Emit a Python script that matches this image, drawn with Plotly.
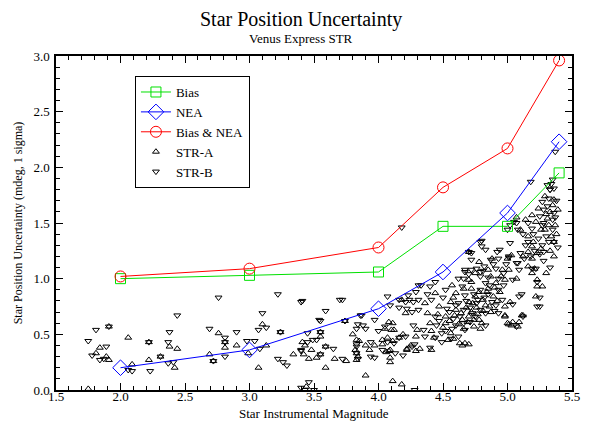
import plotly.graph_objects as go

# ---- Model curves ----
mag = [2.0, 3.0, 4.0, 4.5, 5.0, 5.4]
bias = [1.00, 1.03, 1.06, 1.47, 1.47, 1.95]
nea = [0.20, 0.36, 0.73, 1.06, 1.59, 2.23]
bias_nea = [1.02, 1.09, 1.28, 1.82, 2.17, 2.96]

# ---- STR-A measurements (x = magnitude, y = uncertainty) ----
strA = [
    (1.75, 0.01), (1.84, 0.38), (1.81, 0.33), (1.89, 0.30), (1.91, 0.27), (1.91, 0.57),
    (2.06, 0.47), (2.09, 0.23), (2.22, 0.43), (2.22, 0.27), (2.31, 0.30), (2.38, 0.39),
    (2.44, 0.37), (2.42, 0.20), (2.76, 0.51), (2.81, 0.43), (2.81, 0.38), (2.69, 0.32),
    (2.72, 0.26), (2.90, 0.40), (3.10, 0.59), (2.99, 0.33), (3.13, 0.40), (3.24, 0.52),
    (3.55, 0.48), (3.41, 0.43), (3.43, 0.40), (3.48, 0.36), (3.59, 0.39), (3.42, 0.32),
    (3.34, 0.32), (3.46, 0.28), (3.52, 0.29), (3.55, 0.32), (3.59, 0.20), (3.66, 0.28),
    (3.75, 0.26), (3.07, 0.20), (3.83, 0.33), (3.80, 0.50), (3.74, 0.62), (3.44, 0.03),
    (3.55, 0.52), (4.21, 0.69), (4.08, 0.61), (4.11, 0.60), (4.05, 0.55), (4.12, 0.54),
    (4.03, 0.45), (4.11, 0.44), (4.19, 0.50), (3.83, 0.45), (3.85, 0.44), (3.84, 0.30),
    (3.90, 0.40), (3.93, 0.36), (3.97, 0.40), (4.06, 0.34), (4.09, 0.36), (4.09, 0.29),
    (4.09, 0.25), (4.22, 0.37), (4.25, 0.40), (4.32, 0.37), (4.41, 0.36), (3.90, 0.13),
    (4.11, 0.08), (4.18, 0.05), (4.58, 0.46), (4.65, 0.40), (4.70, 0.41), (4.98, 0.66),
    (5.00, 0.60), (5.04, 0.61), (5.08, 0.57), (5.21, 1.09), (5.23, 0.93), (5.27, 0.93),
    (4.98, 0.67), (5.12, 0.67), (5.01, 0.59), (5.09, 0.61), (5.07, 1.55), (4.78, 1.15),
    (4.70, 1.24), (5.36, 1.33), (4.18, 0.81), (3.83, 0.27), (3.82, 0.36),
    (5.29, 1.74), (5.36, 1.71), (5.35, 1.66), (5.24, 1.63), (5.33, 1.60), (5.19, 1.57),
    (5.31, 1.54), (5.14, 1.53), (5.22, 1.51), (5.32, 1.48), (5.10, 1.44), (5.29, 1.44),
    (5.16, 1.38), (5.20, 1.33), (5.19, 1.29), (5.16, 1.24), (5.23, 1.23), (5.03, 1.21),
    (5.19, 1.18), (5.16, 1.11), (5.23, 0.99), (5.01, 1.08), (4.88, 1.18), (5.00, 1.18),
    (4.85, 1.08), (4.96, 1.08), (4.75, 1.05), (4.87, 1.02), (4.98, 0.99), (5.07, 1.00),
    (4.70, 0.99), (4.91, 0.96), (4.57, 0.94), (4.72, 0.91), (4.85, 0.91), (4.94, 0.88),
    (4.60, 0.87), (4.75, 0.84), (4.89, 0.84), (5.02, 0.79), (4.44, 0.87), (4.56, 0.79),
    (4.70, 0.79), (4.83, 0.76), (4.98, 0.75), (4.47, 0.75), (4.60, 0.72), (4.72, 0.70),
    (4.87, 0.70), (4.36, 0.78), (4.38, 0.69), (4.52, 0.66), (4.65, 0.63), (4.78, 0.63),
    (4.74, 0.57), (4.79, 0.55), (4.52, 0.60), (4.40, 0.60), (4.30, 0.54), (4.41, 0.53),
    (4.56, 0.51), (4.54, 0.45), (4.43, 0.47), (4.29, 0.48), (4.16, 0.47), (4.10, 0.54),
    (4.07, 0.47), (4.03, 0.41), (4.08, 0.35), (4.22, 0.36), (4.29, 0.35), (4.63, 0.42),
    (4.67, 0.42), (5.03, 0.58), (5.11, 0.67), (5.22, 0.84), (5.19, 1.05), (5.39, 1.62),
    (5.38, 1.40), (5.36, 1.20), (5.33, 1.25), (5.30, 1.05), (4.62, 0.59), (4.66, 0.55),
    (4.70, 0.66), (4.76, 0.74), (4.81, 0.81), (4.84, 0.88), (4.90, 0.92), (4.95, 1.02),
    (4.50, 0.56), (4.46, 0.68), (4.58, 0.83), (4.66, 0.91), (4.72, 0.97), (4.78, 0.88),
    (4.64, 0.69), (4.68, 0.74), (4.73, 0.78), (4.77, 0.68), (4.80, 0.60), (4.86, 0.75),
    (4.92, 0.80), (4.55, 0.62), (4.59, 0.67), (4.69, 0.61), (4.74, 0.63), (4.81, 0.71),
    (5.26, 1.44), (5.34, 1.38), (5.30, 1.58), (5.37, 1.48), (5.26, 1.27), (5.12, 1.20),
]

# ---- STR-B measurements ----
strB = [
    (1.75, 0.44), (1.81, 0.54), (1.91, 0.57), (1.89, 0.39), (1.78, 0.31), (1.84, 0.27),
    (1.87, 0.28), (2.06, 0.18), (2.09, 0.17), (2.22, 0.43), (2.23, 0.17), (2.31, 0.30),
    (2.44, 0.67), (2.38, 0.52), (2.37, 0.43), (2.37, 0.24), (2.41, 0.25), (2.76, 0.83),
    (2.69, 0.55), (2.81, 0.47), (2.81, 0.43), (2.72, 0.26), (2.81, 0.30), (2.90, 0.52),
    (3.22, 0.86), (3.41, 0.80), (3.72, 0.81), (3.10, 0.69), (3.59, 0.71), (3.07, 0.54),
    (3.13, 0.56), (3.24, 0.52), (3.55, 0.62), (3.74, 0.62), (2.98, 0.44), (3.04, 0.44),
    (3.08, 0.37), (3.45, 0.51), (3.55, 0.52), (3.49, 0.45), (3.52, 0.45), (3.45, 0.43),
    (3.40, 0.36), (3.59, 0.39), (3.65, 0.37), (3.40, 0.35), (3.55, 0.32), (3.72, 0.28),
    (3.22, 0.28), (3.26, 0.25), (3.29, 0.22), (3.83, 0.33), (3.83, 0.41), (3.84, 0.59),
    (3.46, 0.07), (3.43, 0.00), (3.40, 0.02), (3.50, 0.00), (4.28, 0.00), (4.18, 1.46),
    (4.33, 0.94), (4.38, 0.86), (4.16, 0.81), (4.21, 0.79), (4.24, 0.81), (4.27, 0.79),
    (4.31, 0.81), (4.16, 0.74), (4.22, 0.73), (4.26, 0.70), (3.97, 0.63), (3.88, 0.58),
    (3.87, 0.67), (3.83, 0.55), (3.90, 0.55), (4.16, 0.47), (3.83, 0.39), (3.84, 0.28),
    (4.07, 0.43), (4.03, 0.36), (3.94, 0.30), (3.97, 0.29), (4.19, 0.31), (4.28, 0.41),
    (4.56, 0.46), (3.86, 0.67), (3.54, 0.63), (3.70, 0.81), (3.40, 0.79), (4.44, 0.97),
    (4.40, 0.93), (4.31, 0.94), (4.29, 0.88), (4.23, 0.85), (4.07, 0.84), (4.09, 0.76),
    (5.02, 1.48), (5.00, 1.44), (4.80, 1.34), (4.80, 1.29), (4.72, 1.23), (5.02, 1.32),
    (4.94, 1.26), (5.01, 1.19), (4.87, 1.17), (4.89, 1.13), (4.99, 1.13), (5.08, 1.14),
    (4.67, 1.06), (4.72, 1.08), (4.70, 1.04), (4.76, 1.09), (4.79, 1.06), (4.81, 1.07),
    (4.66, 1.00), (5.12, 0.66), (5.11, 0.86), (5.37, 2.14), (5.18, 1.87), (5.34, 1.85),
    (5.36, 1.81), (5.33, 1.80), (5.05, 1.51), (5.08, 1.44), (5.01, 1.20), (5.16, 1.33),
    (5.21, 1.25), (5.25, 1.22), (5.28, 1.16), (5.19, 1.09), (5.25, 0.75), (5.04, 0.77),
    (4.83, 1.26), (4.92, 1.24), (5.35, 1.89), (5.31, 1.84), (5.33, 1.80), (5.32, 1.72),
    (5.27, 1.69), (5.31, 1.65), (5.28, 1.62), (5.36, 1.59), (5.25, 1.56), (5.35, 1.53),
    (5.16, 1.50), (5.28, 1.50), (5.07, 1.50), (5.19, 1.45), (5.35, 1.44), (5.36, 1.33),
    (5.24, 1.36), (5.14, 1.30), (5.27, 1.30), (5.10, 1.23), (5.28, 1.24), (5.13, 1.18),
    (5.07, 1.14), (5.22, 1.09), (5.09, 1.08), (4.79, 1.33), (4.72, 1.17), (4.93, 1.18),
    (4.82, 1.11), (4.91, 1.09), (4.67, 1.08), (4.79, 1.02), (4.93, 1.00), (5.04, 0.99),
    (4.62, 1.00), (4.83, 0.96), (4.97, 0.94), (4.65, 0.93), (4.79, 0.90), (4.93, 0.90),
    (4.52, 0.90), (4.67, 0.85), (4.82, 0.83), (4.96, 0.81), (5.09, 0.84), (4.50, 0.83),
    (4.62, 0.78), (4.76, 0.78), (4.91, 0.76), (4.41, 0.81), (4.53, 0.73), (4.66, 0.72),
    (4.79, 0.72), (4.93, 0.69), (4.31, 0.72), (4.44, 0.66), (4.58, 0.64), (4.71, 0.61),
    (4.83, 0.58), (4.67, 0.54), (4.60, 0.58), (4.45, 0.58), (4.27, 0.58), (4.35, 0.54),
    (4.49, 0.51), (4.62, 0.48), (4.49, 0.43), (4.36, 0.48), (4.21, 0.48), (4.05, 0.57),
    (4.00, 0.53), (4.12, 0.42), (3.94, 0.43), (4.13, 0.33), (4.26, 0.39), (4.40, 0.38),
    (4.44, 0.47), (4.83, 0.69), (5.07, 0.57), (5.25, 0.83), (5.23, 0.75), (5.23, 0.97),
    (5.38, 1.70), (5.37, 1.55), (5.39, 1.28), (5.33, 1.10), (5.30, 1.38), (4.70, 1.24),
    (4.55, 0.70), (4.60, 0.76), (4.68, 0.80), (4.74, 0.86), (4.86, 0.94), (4.88, 0.79),
    (4.75, 0.66), (4.57, 0.55), (4.47, 0.62), (4.85, 1.01), (4.97, 1.05), (5.12, 1.40),
    (4.63, 0.66), (4.71, 0.74), (4.77, 0.81), (4.85, 0.86), (4.90, 0.71), (4.73, 0.69),
    (4.66, 0.60), (4.52, 0.53), (5.20, 1.40), (5.27, 1.48), (5.32, 1.33), (5.18, 1.20),
]

strA_x = [p[0] for p in strA]
strA_y = [p[1] for p in strA]
strB_x = [p[0] for p in strB]
strB_y = [p[1] for p in strB]

SERIF = "Liberation Serif"
GREEN = "#00e000"

fig = go.Figure()

fig.add_trace(go.Scatter(
    x=strA_x, y=strA_y, mode="markers", name="STR-A", legendrank=4,
    marker=dict(symbol="triangle-up-open", size=6, color="black", line=dict(width=1)),
))
fig.add_trace(go.Scatter(
    x=strB_x, y=strB_y, mode="markers", name="STR-B", legendrank=5,
    marker=dict(symbol="triangle-down-open", size=6, color="black", line=dict(width=1)),
))
fig.add_trace(go.Scatter(
    x=mag, y=bias, mode="lines+markers", name="Bias", legendrank=1,
    line=dict(color=GREEN, width=1),
    marker=dict(symbol="square-open", size=10, color=GREEN, line=dict(width=1)),
))
fig.add_trace(go.Scatter(
    x=mag, y=nea, mode="lines+markers", name="NEA", legendrank=2,
    line=dict(color="blue", width=1),
    marker=dict(symbol="diamond-open", size=12, color="blue", line=dict(width=1)),
))
fig.add_trace(go.Scatter(
    x=mag, y=bias_nea, mode="lines+markers", name="Bias & NEA", legendrank=3,
    line=dict(color="red", width=1),
    marker=dict(symbol="circle-open", size=11, color="red", line=dict(width=1)),
))

axis_common = dict(
    showline=True, linecolor="black", linewidth=1.5, mirror="allticks",
    ticks="inside", ticklen=7, tickwidth=1, tickcolor="black",
    showgrid=False, zeroline=False, dtick=0.5, tickformat=".1f",
    automargin=False,
    tickfont=dict(family=SERIF, size=13, color="black"),
    minor=dict(ticks="inside", ticklen=4, dtick=0.1, tickcolor="black", showgrid=False),
)

fig.update_xaxes(range=[1.5, 5.5], ticklabelstandoff=-6, **axis_common)
fig.update_yaxes(range=[0, 3.0], ticklabelstandoff=2, **axis_common,
                 title=dict(text="Star Position Uncertainty (mdeg, 1 sigma)", standoff=8,
                            font=dict(family=SERIF, size=12, color="black")))

# page has an 8px body margin, so figure is sized/offset to land on the reference pixels
fig.update_layout(
    width=575, height=415,
    margin=dict(l=48, r=11, t=48, b=33),
    paper_bgcolor="white", plot_bgcolor="white",
    font=dict(family=SERIF, color="black"),
    showlegend=True,
    legend=dict(
        x=0.153, y=0.94, xanchor="left", yanchor="top",
        bgcolor="white", bordercolor="black", borderwidth=1,
        font=dict(family=SERIF, size=13, color="black"),
        tracegroupgap=0, itemwidth=30,
    ),
    annotations=[
        dict(text="Star Position Uncertainty", x=0.475, y=1.0, xref="paper", yref="paper",
             yshift=37, xanchor="center", yanchor="middle", showarrow=False,
             font=dict(family=SERIF, size=20, color="black")),
        dict(text="Venus Express STR", x=0.475, y=1.0, xref="paper", yref="paper",
             yshift=18, xanchor="center", yanchor="middle", showarrow=False,
             font=dict(family=SERIF, size=13, color="black")),
        dict(text="Star Instrumental Magnitude", x=0.5, y=0.0, xref="paper", yref="paper",
             yshift=-23, xanchor="center", yanchor="middle", showarrow=False,
             font=dict(family=SERIF, size=13, color="black")),
    ],
)

fig.write_html("out.html")
